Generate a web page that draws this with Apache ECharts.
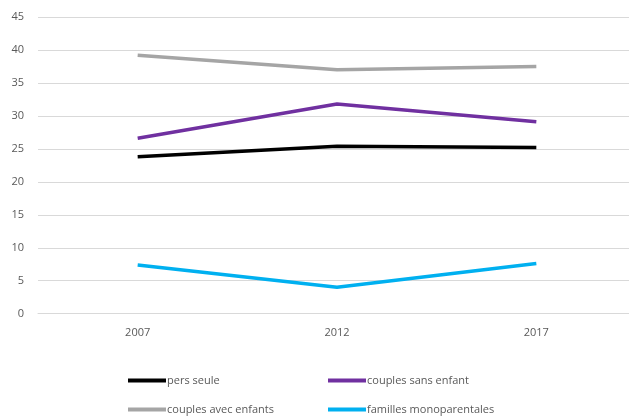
<!DOCTYPE html>
<html><head><meta charset="utf-8">
<script src="https://cdn.jsdelivr.net/npm/echarts@6/dist/echarts.min.js"></script>
<style>html,body{margin:0;padding:0;background:#fff;overflow:hidden;width:629px;height:419px}#c{width:640px;height:419px}</style>
</head><body><div id="c"></div>
<script>
const years = ['2007', '2012', '2017'];
const seriesNames = ['pers seule', 'couples sans enfant', 'couples avec enfants', 'familles monoparentales'];
const persSeule = [23.8, 25.4, 25.2];
const couplesSansEnfant = [26.6, 31.8, 29.1];
const couplesAvecEnfants = [39.2, 37.0, 37.5];
const famillesMono = [7.4, 4.0, 7.6];
const colors = ['#000000', '#7030A0', '#A5A5A5', '#00B0F0'];
const values = [persSeule, couplesSansEnfant, couplesAvecEnfants, famillesMono];

const legendPos = [[123, 370], [323, 370], [123, 399], [323, 399]];
const font = '"Open Sans", "Liberation Sans", sans-serif';

const chart = echarts.init(document.getElementById('c'));
chart.setOption({
  animation: false,
  textStyle: { fontFamily: font },
  grid: { left: 38, top: 17, width: 598, height: 296.7, containLabel: false },
  legend: seriesNames.map((n, i) => ({
    data: [n], left: legendPos[i][0], top: legendPos[i][1],
    icon: 'rect', itemWidth: 38, itemHeight: 4, itemGap: 0,
    textStyle: { color: '#595959', fontSize: 11, fontFamily: font, padding: [0, 0, 0, -4] },
    selectedMode: false
  })),
  xAxis: {
    type: 'category', data: years, boundaryGap: true,
    axisLine: { show: true, lineStyle: { color: '#D9D9D9' } },
    axisTick: { show: false },
    axisLabel: { color: '#595959', fontSize: 11, margin: 14 }
  },
  yAxis: {
    type: 'value', min: 0, max: 45, interval: 5,
    axisLine: { show: false }, axisTick: { show: false },
    splitLine: { lineStyle: { color: '#D9D9D9', width: 1 } },
    axisLabel: { color: '#595959', fontSize: 11, margin: 14 }
  },
  series: seriesNames.map((n, i) => ({
    name: n, type: 'line', data: values[i], symbol: 'none',
    lineStyle: { color: colors[i], width: 3.5 }, itemStyle: { color: colors[i] }
  }))
});
</script></body></html>
